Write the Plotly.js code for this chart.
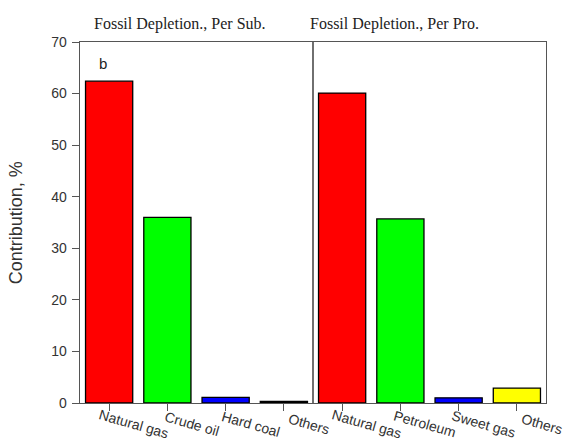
<!DOCTYPE html>
<html>
<head>
<meta charset="utf-8">
<script src="https://cdn.plot.ly/plotly-3.0.1.min.js"></script>
<style>html,body{margin:0;padding:0;background:#fff;}#chart{width:567px;height:443px;}</style>
</head>
<body>
<div id="chart"></div>
<script>
// Fossil depletion contributions: per substance (left group) and per process (right group)
const categories = ["Natural gas", "Crude oil", "Hard coal", "Others",
                    "Natural gas", "Petroleum", "Sweet gas", "Others"];
const contribution = [62.4, 36.0, 1.1, 0.3, 60.1, 35.7, 1.0, 2.9];
const barColors = ["#ff0000", "#00ff00", "#0000ff", "#000000",
                   "#ff0000", "#00ff00", "#0000ff", "#ffff00"];
const groupTitles = ["Fossil Depletion., Per Sub.", "Fossil Depletion., Per Pro."];
const yTicks = [0, 10, 20, 30, 40, 50, 60, 70];

const positions = categories.map((_, i) => i);

const trace = {
  type: "bar",
  x: positions,
  y: contribution,
  width: 0.81,
  marker: { color: barColors, line: { color: "#000", width: 1.3 } },
  hoverinfo: "skip"
};

const axisColor = "#555";
const serif = "Liberation Serif, Times New Roman, serif";

// Slanted category labels, centred a little to the right of and below each tick
const categoryLabels = categories.map((name, i) => ({
  text: name, xref: "x", yref: "paper", x: positions[i], y: -0.058,
  xshift: 25, xanchor: "center", yanchor: "middle",
  textangle: 16, showarrow: false,
  font: { size: 14, color: "#333" }
}));

const layout = {
  width: 567,
  height: 443,
  margin: { l: 80, r: 21, t: 42, b: 40 },
  paper_bgcolor: "#fff",
  plot_bgcolor: "#fff",
  showlegend: false,
  font: { family: "Liberation Sans, Arial, sans-serif", color: "#333" },
  xaxis: {
    range: [-0.5, 7.5],
    tickvals: positions,
    showticklabels: false,
    ticks: "outside",
    ticklen: 7,
    tickcolor: axisColor,
    showline: true,
    linecolor: axisColor,
    linewidth: 1.3,
    mirror: true,
    showgrid: false,
    zeroline: false,
    automargin: false,
    fixedrange: true
  },
  yaxis: {
    range: [0, 70],
    tickvals: yTicks,
    ticks: "outside",
    ticklen: 7,
    tickcolor: axisColor,
    tickfont: { size: 14, color: "#333" },
    ticklabelstandoff: 2,
    showline: true,
    linecolor: axisColor,
    linewidth: 1.3,
    mirror: true,
    showgrid: false,
    zeroline: false,
    automargin: false,
    fixedrange: true
  },
  shapes: [{
    type: "line", xref: "x", yref: "paper",
    x0: 3.5, x1: 3.5, y0: 0, y1: 1,
    line: { color: "#222", width: 1.3 }
  }],
  annotations: [
    {
      text: groupTitles[0], xref: "x", yref: "paper", x: 1.22, y: 1.05,
      showarrow: false, xanchor: "center", yanchor: "middle",
      font: { family: serif, size: 16, color: "#222" }
    },
    {
      text: groupTitles[1], xref: "x", yref: "paper", x: 4.9, y: 1.05,
      showarrow: false, xanchor: "center", yanchor: "middle",
      font: { family: serif, size: 16, color: "#222" }
    },
    {
      text: "b", xref: "x", yref: "y", x: -0.1, y: 65.8,
      showarrow: false,
      font: { size: 15, color: "#222" }
    },
    {
      text: "Contribution, %", xref: "paper", yref: "paper",
      x: -0.138, y: 0.5, xanchor: "center", yanchor: "middle",
      textangle: -90, showarrow: false,
      font: { size: 18, color: "#333" }
    }
  ].concat(categoryLabels)
};

Plotly.newPlot("chart", [trace], layout, { displayModeBar: false, staticPlot: true });
</script>
</body>
</html>
